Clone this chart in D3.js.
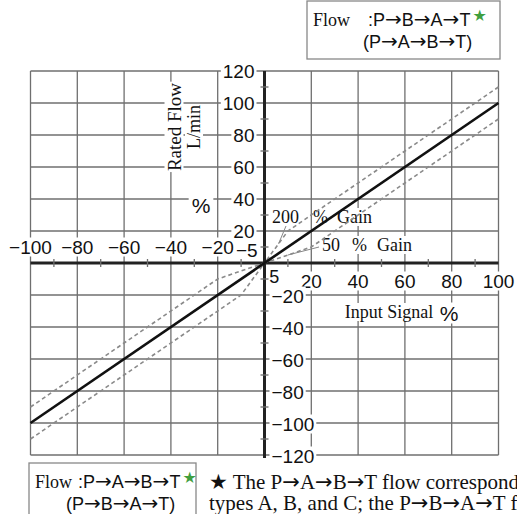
<!DOCTYPE html>
<html>
<head>
<meta charset="utf-8">
<script src="https://cdn.jsdelivr.net/npm/d3@7"></script>
<style>
  html, body { margin: 0; padding: 0; background: #fff; }
  svg { display: block; }
  .sans { font-family: "Liberation Sans", Arial, Helvetica, sans-serif; }
  .serif { font-family: "Liberation Serif", "Times New Roman", serif; }
  .sym { font-family: "DejaVu Sans", sans-serif; }
</style>
</head>
<body>
<svg id="chart" width="517" height="514"></svg>
<script>
// Input signal (%) tick values along the horizontal axis
const xTicks = [-100, -80, -60, -40, -20, 20, 40, 60, 80, 100];
const xMinorTicks = [-90, -70, -50, -30, -10, 10, 30, 50, 70, 90];
// Rated flow (L/min) tick values along the vertical axis
const yTicks = [-120, -100, -80, -60, -40, -20, 20, 40, 60, 80, 100, 120];
const yMinorTicks = [-110, -90, -70, -50, -30, -10, 10, 30, 50, 70, 90, 110];
const xGrid = [-100, -80, -60, -40, -20, 20, 40, 60, 80, 100];
const yGrid = [-120, -100, -80, -60, -40, -20, 20, 40, 60, 80, 100, 120];

// Nominal flow characteristic (input %, flow L/min)
const nominalInput = [-100, 100];
const nominalFlow = [-100, 100];
// Upper tolerance limit: 200 % gain near the origin on the + side, 50 % on the − side
const upperInput = [-100, -20, 0, 10, 100];
const upperFlow = [-90, -10, 0, 20, 110];
// Lower tolerance limit: 50 % gain near the origin on the + side, 200 % on the − side
const lowerInput = [-100, -10, 0, 20, 100];
const lowerFlow = [-110, -20, 0, 10, 90];

const svg = d3.select("#chart");
const x = d3.scaleLinear().domain([-100, 100]).range([30.5, 498.5]);
const y = d3.scaleLinear().domain([-120, 120]).range([455, 71]);
const gridColor = "#6f6f6f";

// Grid
const grid = svg.append("g");
grid.selectAll("line.vx").data(xGrid).join("line")
  .attr("x1", d => x(d)).attr("x2", d => x(d))
  .attr("y1", y(120)).attr("y2", y(-120))
  .attr("stroke", gridColor).attr("stroke-width", 1.3);
grid.selectAll("line.hy").data(yGrid).join("line")
  .attr("x1", x(-100)).attr("x2", x(100))
  .attr("y1", d => y(d)).attr("y2", d => y(d))
  .attr("stroke", gridColor).attr("stroke-width", 1.3);

// Labels with white backing boxes that interrupt the grid
const labels = svg.append("g");
function label(txt, px, py, opts = {}) {
  const g = labels.append("g");
  const t = g.append("text")
    .attr("x", px).attr("y", py)
    .attr("class", opts.cls || "sans")
    .attr("font-size", opts.size || 19)
    .attr("text-anchor", opts.anchor || "middle")
    .attr("dominant-baseline", "central")
    .attr("fill", "#111")
    .text(txt);
  if (opts.rotate) t.attr("transform", `rotate(${opts.rotate},${px},${py})`);
  if (opts.bg !== false) {
    const b = t.node().getBBox();
    const pad = opts.pad == null ? 2 : opts.pad;
    const r = g.insert("rect", "text")
      .attr("x", b.x - pad).attr("y", b.y + 1)
      .attr("width", b.width + 2 * pad).attr("height", b.height - 2)
      .attr("fill", "#fff");
    if (opts.rotate) r.attr("transform", `rotate(${opts.rotate},${px},${py})`);
  }
  return t;
}
const fmt = d => (d < 0 ? "\u2212" + Math.abs(d) : String(d));

// Axes
const axes = svg.append("g");
axes.append("line").attr("x1", x(-100)).attr("x2", x(100))
  .attr("y1", y(0)).attr("y2", y(0))
  .attr("stroke", "#222").attr("stroke-width", 3);
axes.append("line").attr("x1", x(0)).attr("x2", x(0))
  .attr("y1", y(120)).attr("y2", y(-120) + 3)
  .attr("stroke", "#222").attr("stroke-width", 3);
axes.selectAll("line.mx").data(xMinorTicks).join("line")
  .attr("x1", d => x(d)).attr("x2", d => x(d))
  .attr("y1", y(0) - 4).attr("y2", y(0) + 4)
  .attr("stroke", gridColor).attr("stroke-width", 1.3);
axes.selectAll("line.my").data(yMinorTicks).join("line")
  .attr("x1", x(0) - 4).attr("x2", x(0) + 4)
  .attr("y1", d => y(d)).attr("y2", d => y(d))
  .attr("stroke", gridColor).attr("stroke-width", 1.3);

// Tick labels: negative inputs above the axis, positive below;
// positive flows left of the axis, negative right of it.
xTicks.forEach(d => {
  label(fmt(d), x(d), d < 0 ? y(0) - 16 : y(0) + 18);
});
label(fmt(-5), x(-5) - 6, y(0) - 13, { pad: 0 });
label("5", x(5) - 2, y(0) + 14, { pad: 0, size: 18 });
yTicks.forEach(d => {
  if (d > 0) label(fmt(d), x(0) - 10, y(d), { anchor: "end" });
  else label(fmt(d), x(0) + 7, y(d) + 1, { anchor: "start" });
});

// Flow characteristic lines
const line = d3.line().x(d => x(d[0])).y(d => y(d[1]));
const plot = svg.append("g");
[[upperInput, upperFlow], [lowerInput, lowerFlow]].forEach(([xs, ys]) => {
  plot.append("path").datum(xs.map((v, i) => [v, ys[i]]))
    .attr("d", line).attr("fill", "none")
    .attr("stroke", "#8a8a8a").attr("stroke-width", 1.6).attr("stroke-dasharray", "4,3");
});
plot.append("path").datum(nominalInput.map((v, i) => [v, nominalFlow[i]]))
  .attr("d", line).attr("fill", "none")
  .attr("stroke", "#111").attr("stroke-width", 2.6);

// Gain annotations with leader lines
plot.append("line").attr("x1", 286).attr("y1", 226).attr("x2", x(6)).attr("y2", y(12))
  .attr("stroke", "#888").attr("stroke-width", 1);
plot.append("line").attr("x1", 319).attr("y1", 247).attr("x2", x(10)).attr("y2", y(5))
  .attr("stroke", "#888").attr("stroke-width", 1);
label("200", 272, 217, { cls: "serif", size: 18, anchor: "start", pad: 1 });
label("%", 313, 217, { cls: "serif", size: 18, anchor: "start", pad: 1 });
label("Gain", 337, 217, { cls: "serif", size: 18, anchor: "start", pad: 1 });
label("50", 322, 245, { cls: "serif", size: 18, anchor: "start", pad: 1 });
label("%", 352, 245, { cls: "serif", size: 18, anchor: "start", pad: 1 });
label("Gain", 377, 245, { cls: "serif", size: 18, anchor: "start", pad: 1 });

// Axis titles
label("Rated Flow", 174, 127, { cls: "serif", size: 19, rotate: -90, pad: 1 });
label("L/min", 194, 127, { cls: "serif", size: 18, rotate: -90, pad: 1 });
label("%", 201, 205, { size: 21, pad: 3 });
label("Input Signal", 389, 312, { cls: "serif", size: 18, pad: 3 });
label("%", 449, 313, { size: 21, pad: 2 });

// Builds one line of mixed text, drawing arrows and stars with a symbol font
function mixedText(sel, parts, symSize) {
  parts.forEach(p => {
    if (p === "\u2192" || p === "\u2605") sel.append("tspan").attr("class", "sym").attr("font-size", symSize).text(p);
    else sel.append("tspan").text(p);
  });
}
const path = s => s.split(/(\u2192)/).filter(p => p !== "");

// Flow direction legends
function flowBox(bx, by, w, h, gap, l2x, l1, l2) {
  const g = svg.append("g");
  g.append("rect").attr("x", bx).attr("y", by).attr("width", w).attr("height", h)
    .attr("fill", "#fff").attr("stroke", "#888").attr("stroke-width", 1.3);
  const t1 = g.append("text").attr("x", bx + 6).attr("y", by + 25).attr("fill", "#111");
  t1.append("tspan").attr("class", "serif").attr("font-size", 18).text("Flow");
  const p1 = t1.append("tspan").attr("class", "sans").attr("font-size", 18).attr("dx", gap);
  mixedText(p1, [":"].concat(path(l1)), 20);
  t1.append("tspan").attr("fill", "#3f9f3f").attr("font-size", 16).attr("dx", 2).attr("dy", -5)
    .attr("class", "sym").text("\u2605");
  const t2 = g.append("text").attr("class", "sans").attr("font-size", 18).attr("fill", "#111")
    .attr("x", l2x).attr("y", by + 47);
  mixedText(t2, ["("].concat(path(l2), [")"]), 20);
}
flowBox(307, 1, 193, 58, 18, 363, "P\u2192B\u2192A\u2192T", "P\u2192A\u2192B\u2192T");
flowBox(29, 463, 167, 60, 6, 66, "P\u2192A\u2192B\u2192T", "P\u2192B\u2192A\u2192T");

// Footnote
function noteLine(yPos, parts) {
  const t = svg.append("text").attr("class", "serif").attr("font-size", 21).attr("fill", "#111")
    .attr("x", 209).attr("y", yPos);
  mixedText(t, parts, 21);
}
noteLine(489, ["\u2605", " The P", "\u2192", "A", "\u2192", "B", "\u2192", "T flow corresponds to"]);
noteLine(510, ["types A, B, and C; the P", "\u2192", "B", "\u2192", "A", "\u2192", "T flow"]);
</script>
</body>
</html>
